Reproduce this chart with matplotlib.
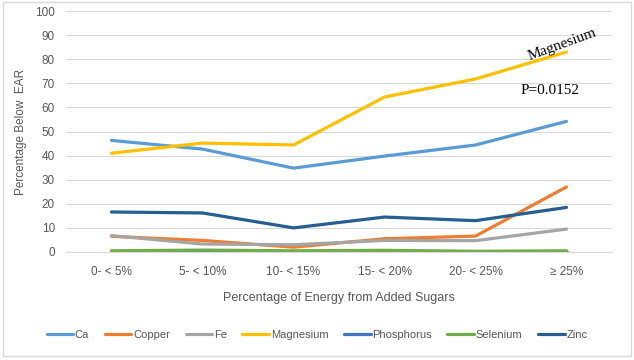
import matplotlib.pyplot as plt
import numpy as np

# Data
categories = ['0- < 5%', '5- < 10%', '10- < 15%', '15- < 20%', '20- < 25%', '≥ 25%']
ca = [46.3, 42.7, 34.8, 39.8, 44.4, 54.2]
copper = [6.5, 4.8, 2.0, 5.5, 6.6, 27.0]
fe = [6.8, 3.3, 3.0, 4.8, 4.7, 9.5]
magnesium = [41.0, 45.2, 44.4, 64.3, 71.8, 83.0]
phosphorus = [0.0, 0.0, 0.0, 0.0, 0.0, 0.0]
selenium = [0.5, 0.8, 0.5, 0.7, 0.3, 0.5]
zinc = [16.6, 16.2, 10.0, 14.5, 13.0, 18.5]

series = [
    ('Ca', ca, '#5B9BD5'),
    ('Copper', copper, '#ED7D31'),
    ('Fe', fe, '#A5A5A5'),
    ('Magnesium', magnesium, '#FFC000'),
    ('Phosphorus', phosphorus, '#4472C4'),
    ('Selenium', selenium, '#70AD47'),
    ('Zinc', zinc, '#255E91'),
]

plt.rcParams['font.family'] = ['Liberation Sans', 'DejaVu Sans']
grey = '#595959'

fig = plt.figure(figsize=(6.34, 3.6), dpi=100)
ax = fig.add_axes([66 / 634, 1 - 252 / 360, 546 / 634, 241 / 360])

x = np.arange(len(categories))
for name, vals, col in series:
    ax.plot(x, vals, color=col, lw=2.3, label=name, solid_capstyle='round')

ax.set_xlim(-0.5, len(categories) - 0.5)
ax.set_ylim(0, 100)
ax.set_yticks(range(0, 101, 10))
ax.set_xticks(x)
ax.set_xticklabels(categories)
ax.grid(axis='y', color='#D9D9D9', lw=0.8)
ax.set_axisbelow(True)
for s in ['top', 'right', 'left']:
    ax.spines[s].set_visible(False)
ax.spines['bottom'].set_color('#D9D9D9')
ax.tick_params(length=0, colors=grey, labelsize=8.5)
ax.tick_params(axis='x', pad=10)
ax.tick_params(axis='y', pad=8)

ax.set_ylabel('Percentage Below  EAR', color=grey, fontsize=8.5, labelpad=6)
ax.set_xlabel('Percentage of Energy from Added Sugars', color=grey, fontsize=9, labelpad=10)

ax.text(4.95, 86, 'Magnesium', family='Liberation Serif', fontsize=11,
        rotation=20, ha='center', va='center')
ax.text(4.82, 67, 'P=0.0152', family='Liberation Serif', fontsize=11,
        ha='center', va='center')

fig.legend(loc='center', bbox_to_anchor=(0.5, 1 - 335 / 360), ncol=7, frameon=False,
           fontsize=8, handlelength=2.4, handletextpad=0.15, columnspacing=1.4,
           labelcolor=grey)

fig.patches.append(plt.Rectangle((0.005, 0.01), 0.99, 0.985, transform=fig.transFigure,
                                 fill=False, edgecolor='#D9D9D9', lw=1))

fig.savefig('out.png', dpi=100)
